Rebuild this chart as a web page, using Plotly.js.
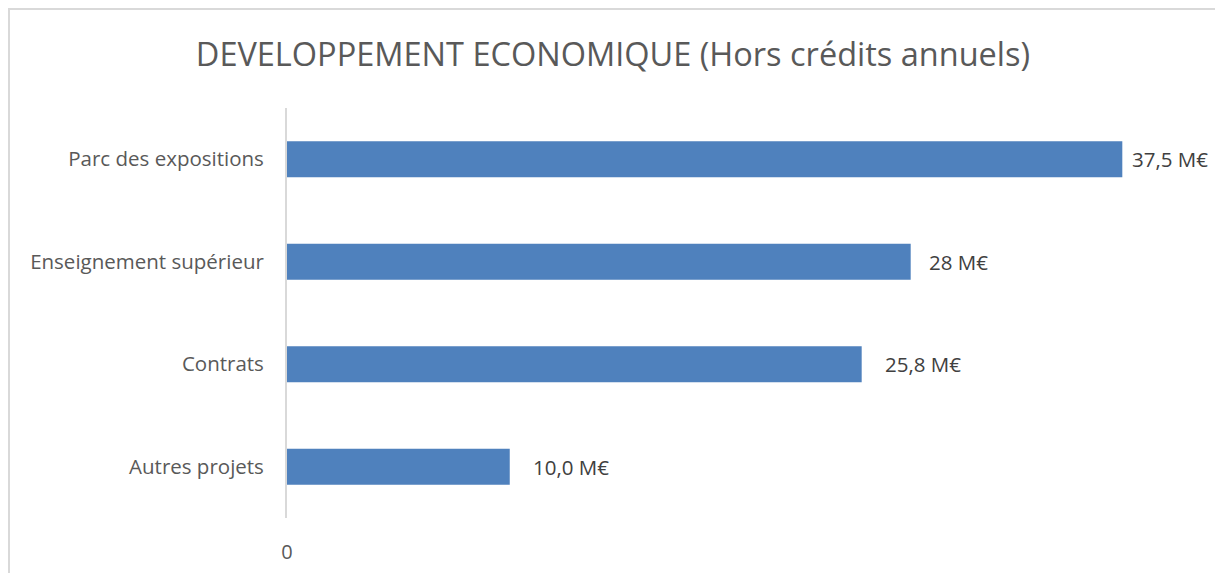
<!DOCTYPE html>
<html>
<head>
<meta charset="utf-8">
<script src="https://cdn.plot.ly/plotly-3.0.1.min.js"></script>
<style>
  html, body { margin: 0; padding: 0; background: #fff; }
  #wrap { position: relative; width: 1215px; height: 573px; }
  #chart { position: absolute; left: 0; top: 0; width: 1215px; height: 573px; }
  #frame { position: absolute; left: 8px; top: 8px; width: 1207px; height: 565px;
           border-top: 2px solid #d9d9d9; border-left: 2px solid #d9d9d9; box-sizing: border-box; pointer-events: none; }
</style>
</head>
<body>
<div id="wrap"><div id="chart"></div><div id="frame"></div></div>
<script>
const categories = ["Parc des expositions", "Enseignement supérieur", "Contrats", "Autres projets"];
const values = [37.5, 28, 25.8, 10.0];
const valueLabels = ["37,5 M€", "28 M€", "25,8 M€", "10,0 M€"];
const xTickVals = [0];
const xTickText = ["0"];

const font = "'Open Sans', 'Noto Sans', sans-serif";
const gray = "#595959";
const labelShifts = [8, 16, 21, 21];

const trace = {
  type: "bar",
  orientation: "h",
  y: categories,
  x: values,
  width: 0.35,
  marker: { color: "#4F81BD" },
  hoverinfo: "none"
};

const annotations = categories.map((c, i) => ({
  x: values[i], y: c, xref: "x", yref: "y",
  text: valueLabels[i], showarrow: false,
  xanchor: "left", yanchor: "middle", xshift: labelShifts[i],
  font: { family: font, size: 20.5, color: "#404040" }
}));

const layout = {
  width: 1215, height: 573,
  margin: { l: 287, r: 37, t: 108, b: 55 },
  paper_bgcolor: "#ffffff", plot_bgcolor: "#ffffff",
  showlegend: false,
  title: {
    text: "DEVELOPPEMENT ECONOMIQUE (Hors crédits annuels)",
    font: { family: font, size: 32.5, color: gray },
    x: 0.5045, xanchor: "center", y: 1 - 55/573, yanchor: "middle", yref: "container"
  },
  xaxis: {
    range: [0, 40], showgrid: false, zeroline: false, showline: false,
    tickmode: "array", tickvals: xTickVals, ticktext: xTickText,
    ticks: "", ticklen: 0, ticklabelstandoff: 20,
    tickfont: { family: font, size: 20, color: gray },
    fixedrange: true
  },
  yaxis: {
    autorange: "reversed", showgrid: false, zeroline: false,
    showline: true, linecolor: "#d9d9d9", linewidth: 2,
    ticks: "", ticklabelstandoff: 17,
    tickfont: { family: font, size: 20.5, color: gray },
    fixedrange: true
  },
  annotations: annotations
};

Plotly.newPlot("chart", [trace], layout, { staticPlot: true, displayModeBar: false });
</script>
</body>
</html>
